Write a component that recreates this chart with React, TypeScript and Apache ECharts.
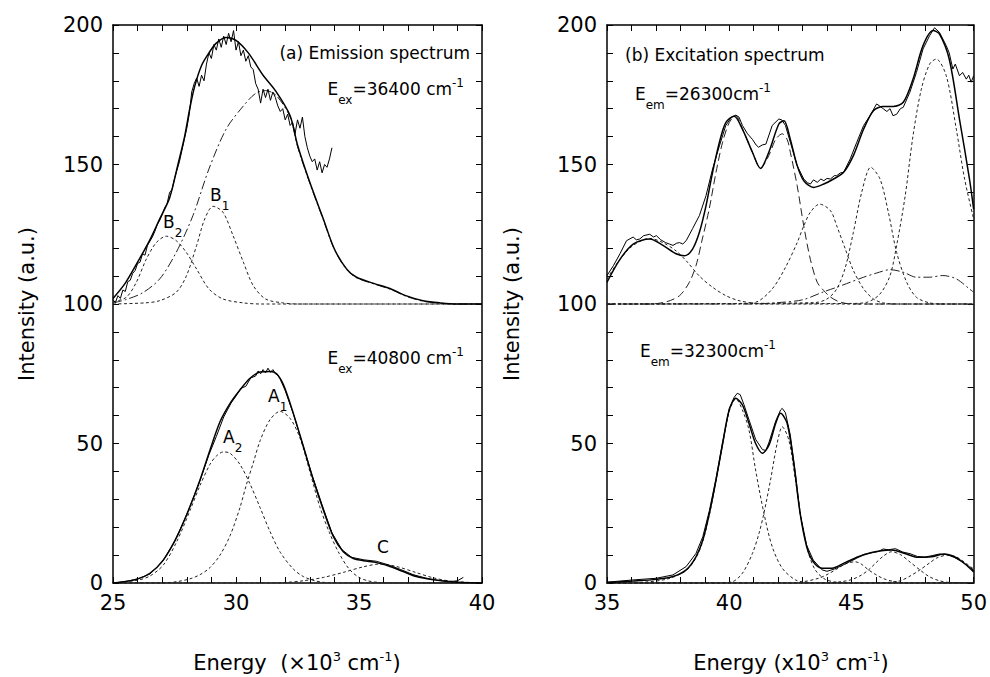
import React, { useEffect, useRef } from "react";
import * as echarts from "echarts";

// ---------- (a) Emission spectrum, upper trace (offset +100) ----------
const aTopExp: number[][] = [
  [25.0, 101.5], [25.1, 100.5], [25.2, 103], [25.3, 102], [25.4, 105], [25.5, 104.5], [25.6, 108], [25.7, 108.5],
  [25.8, 111], [25.9, 112], [26.0, 114.5], [26.1, 115], [26.2, 118], [26.3, 117.5], [26.4, 121], [26.5, 122.5],
  [26.6, 124], [26.7, 126], [26.8, 128.5], [26.9, 130], [27.0, 132], [27.1, 134.5], [27.2, 136], [27.3, 140],
  [27.4, 141], [27.5, 145], [27.6, 148], [27.7, 151], [27.8, 155], [27.9, 159], [28.0, 163], [28.1, 168],
  [28.2, 176], [28.3, 179], [28.4, 181], [28.5, 178], [28.6, 182], [28.7, 180], [28.8, 186], [28.9, 190],
  [29.0, 188], [29.1, 193], [29.2, 191], [29.3, 195], [29.4, 192], [29.5, 196], [29.6, 193], [29.7, 197],
  [29.8, 194], [29.9, 198], [30.0, 191], [30.1, 194], [30.2, 189], [30.3, 191], [30.4, 187], [30.5, 189],
  [30.6, 185], [30.7, 184], [30.8, 179], [30.9, 177], [31.0, 172], [31.1, 177], [31.2, 174], [31.3, 177],
  [31.4, 173], [31.5, 176], [31.6, 174], [31.7, 171], [31.8, 169], [31.9, 170], [32.0, 166], [32.1, 168],
  [32.2, 164], [32.3, 165], [32.4, 161], [32.5, 166], [32.6, 163], [32.7, 167], [32.8, 160], [32.9, 156],
  [33.0, 153], [33.1, 151], [33.2, 152], [33.3, 148], [33.4, 151], [33.5, 147], [33.6, 150], [33.7, 149],
  [33.8, 152], [33.9, 156],
];
const aTopFit: number[][] = [
  [25, 102], [25.5, 107.5], [26, 115], [26.5, 123], [26.9, 130.5], [27.3, 138], [27.64, 150], [27.91, 160],
  [28.12, 170], [28.32, 178], [28.6, 185.5], [28.9, 190], [29.2, 193.5], [29.6, 195.5], [30, 194.5], [30.5, 190],
  [31.1, 182], [31.6, 176.5], [32.2, 167.5], [32.5, 157], [33, 143.6], [33.55, 130.5], [34, 119.7], [34.5, 112.5],
  [34.9, 109.6], [35.6, 107.4], [36.3, 105.4], [36.9, 103], [37.6, 101.2], [38.3, 100.4], [39, 100], [40, 100],
];
const aTopBroad: number[][] = [
  [25, 100.4], [25.5, 101.5], [26.2, 104], [26.9, 109], [27.57, 118.5], [28.25, 131.7], [28.9, 148.4], [29.6, 162.7],
  [30.3, 171], [30.8, 175.5], [31.2, 176.5], [31.64, 174.7], [32.2, 167], [32.5, 156.5], [33, 143.3], [33.55, 130.2],
  [34, 119.5], [34.5, 112.3], [34.9, 109.4], [35.6, 107.2], [36.3, 105.2], [36.9, 102.8], [37.6, 101], [38.3, 100.3],
  [39, 100], [40, 100],
];
const aTopB2: number[][] = [
  [25, 100.8], [25.54, 102.4], [25.95, 107.8], [26.35, 116], [26.76, 122], [27.17, 124.3], [27.57, 122.7],
  [27.98, 118.5], [28.4, 112.5], [28.9, 105.4], [29.47, 101.8], [30.3, 100.4], [31, 100], [40, 100],
];
const aTopB1: number[][] = [
  [25, 100], [26.3, 100.4], [26.9, 101.2], [27.57, 104.2], [27.98, 110], [28.4, 121], [28.73, 130.5], [29.07, 135],
  [29.47, 132.9], [29.88, 124.5], [30.3, 115], [30.7, 106.6], [31.2, 101.8], [31.9, 100.4], [32.5, 100], [40, 100],
];

// ---------- (a) Emission spectrum, lower trace ----------
const aBotExp: number[][] = [
  [25, 0], [25.5, 0.5], [26, 1.5], [26.5, 3.2], [27, 7.5], [27.5, 14.8], [28, 24.5], [28.5, 35.8], [28.9, 46],
  [29.2, 52.5], [29.5, 59.5], [29.8, 64.5], [30.0, 67], [30.2, 69.8], [30.4, 70.5], [30.6, 73.5], [30.8, 74.2],
  [30.9, 76], [31.0, 75], [31.1, 76.5], [31.2, 75.3], [31.3, 77], [31.4, 75.5], [31.5, 76.5], [31.6, 75],
  [31.7, 74.5], [31.8, 73], [32.0, 69], [32.3, 61.5], [32.7, 50], [33.1, 38.5], [33.5, 28], [33.9, 18],
  [34.3, 12], [34.7, 9.2], [35.2, 8.3], [35.7, 7.8], [36.2, 6.5], [36.7, 4.8], [37.2, 3], [37.7, 1.8],
  [38.2, 1], [38.7, 0.5], [39.0, 0.8], [39.24, 2],
];
const aBotFit: number[][] = [
  [25, 0], [25.96, 1.3], [26.5, 3.5], [27.05, 8.3], [27.6, 16.6], [28.13, 27.4], [28.54, 37], [28.94, 47.6],
  [29.35, 57.8], [29.76, 64.4], [30.16, 69.2], [30.57, 73.4], [30.98, 75.6], [31.38, 75.8], [31.65, 75],
  [31.93, 71], [32.33, 60.8], [32.74, 48.9], [33.14, 37], [33.55, 26.2], [33.96, 16.6], [34.36, 11.2],
  [34.77, 8.8], [35.18, 8], [35.72, 7.3], [36.26, 5.9], [36.8, 4.1], [37.34, 2.3], [37.89, 1.3], [38.43, 0.7],
  [39, 0.3], [40, 0],
];
const aBotA2: number[][] = [
  [25, 0], [26, 1], [26.5, 2.5], [27.05, 6.5], [27.6, 15], [28.13, 26], [28.54, 35], [28.94, 42.5], [29.2, 45.5],
  [29.49, 47], [29.76, 46.5], [30.16, 42.5], [30.57, 35.5], [30.98, 27], [31.38, 18.5], [31.8, 11], [32.33, 5],
  [32.74, 2.3], [33.2, 0.8], [33.6, 0.2], [34.2, 0], [40, 0],
];
const aBotA1: number[][] = [
  [25, 0], [27, 0], [27.6, 0.5], [28.13, 1.5], [28.54, 3], [28.94, 5.5], [29.35, 10], [29.76, 17], [30.16, 27],
  [30.43, 35.5], [30.7, 43], [30.98, 51], [31.38, 58.5], [31.79, 61.5], [32.2, 59], [32.6, 52], [33.0, 40],
  [33.4, 27.5], [33.8, 18], [34.2, 10.5], [34.6, 5], [35.0, 2], [35.4, 0.7], [35.8, 0.2], [36.3, 0], [40, 0],
];
const aBotC: number[][] = [
  [25, 0], [31.2, 0], [32.0, 0.2], [32.74, 0.8], [33.55, 2], [34.36, 3.8], [35.18, 5.8], [35.85, 6.8],
  [36.53, 5.9], [37.3, 3.8], [38.0, 1.9], [38.7, 0.7], [39.5, 0.2], [40, 0],
];

// ---------- (b) Excitation spectrum, upper trace (offset +100) ----------
const bTopExp: number[][] = [
  [35, 110.2], [35.26, 113.7], [35.53, 118], [35.8, 122.7], [36.07, 124], [36.2, 123], [36.34, 123.3], [36.5, 124.5],
  [36.75, 125], [36.9, 124], [37.02, 124.5], [37.2, 123], [37.4, 122], [37.55, 121.5], [37.7, 121], [37.85, 121.8],
  [37.97, 122], [38.1, 121.5], [38.24, 122.7], [38.5, 127], [38.78, 131.7], [39.05, 138.8], [39.32, 148.4],
  [39.6, 156.7], [39.86, 164], [40.1, 167], [40.27, 167.7], [40.4, 167], [40.54, 164], [40.75, 161], [40.95, 159],
  [41.1, 157], [41.2, 156.2], [41.35, 157], [41.5, 157.3], [41.76, 164], [42.03, 166.3], [42.15, 166], [42.3, 164],
  [42.5, 158], [42.78, 149.6], [43.05, 144.8], [43.2, 143.5], [43.32, 143], [43.45, 144.5], [43.6, 143.6],
  [43.75, 144.8], [43.87, 144.2], [44.0, 145], [44.14, 144.8], [44.3, 146], [44.4, 146], [44.55, 147],
  [44.68, 147.2], [44.95, 152], [45.22, 158], [45.5, 164], [45.76, 167.5], [46.03, 171.7], [46.15, 171],
  [46.3, 170], [46.45, 169], [46.58, 170], [46.7, 167.5], [46.85, 168], [47.0, 170], [47.12, 170.5],
  [47.39, 175.9], [47.66, 183], [47.93, 191.4], [48.2, 196.2], [48.4, 199], [48.6, 197.4], [48.88, 192.6],
  [49.0, 190], [49.15, 184.2], [49.25, 186], [49.42, 181.8], [49.55, 183], [49.7, 180.6], [49.8, 182],
  [49.9, 179.5], [50, 181.8],
];
const bTopFit: number[][] = [
  [35, 107.8], [35.53, 116], [36.07, 121.5], [36.75, 123.3], [37.29, 121], [37.83, 118], [38.17, 117.3],
  [38.5, 119.7], [38.78, 125.7], [39.05, 135.2], [39.32, 147.2], [39.6, 158], [39.86, 165], [40.2, 167.3],
  [40.54, 162.7], [40.95, 154.4], [41.28, 148.6], [41.62, 154.4], [42.03, 164.5], [42.24, 165.7], [42.5, 159],
  [42.78, 149.6], [43.05, 144.2], [43.46, 141.8], [43.87, 143], [44.27, 144.8], [44.68, 147.2], [45.08, 153.2],
  [45.5, 162.7], [45.9, 169.3], [46.3, 170.8], [46.71, 170.8], [47.12, 172.3], [47.52, 180.6], [47.93, 192.6],
  [48.34, 198], [48.6, 196.8], [49, 187.8], [49.42, 166.3], [49.83, 144.8], [50, 134],
];
const bTopG1: number[][] = [
  [35, 109], [35.53, 116], [36.07, 121], [36.75, 123.5], [37.29, 122], [37.83, 119], [38.24, 115.5],
  [38.78, 110], [39.32, 106], [39.86, 103], [40.4, 101.2], [41.08, 100.2], [41.5, 100], [50, 100],
];
const bTopDouble: number[][] = [
  [35, 100], [36.75, 100], [37.43, 100.8], [37.97, 103], [38.37, 107.8], [38.64, 113.7], [38.9, 123.3],
  [39.18, 134], [39.46, 147.2], [39.73, 158], [40, 165], [40.27, 167.5], [40.54, 162.7], [40.95, 154.4],
  [41.28, 148.6], [41.62, 153.2], [41.9, 159], [42.17, 161], [42.37, 159], [42.5, 154.4], [42.78, 142.4],
  [43.05, 128], [43.32, 116], [43.6, 107.8], [43.87, 104.8], [44.14, 102.5], [44.5, 100.8], [45, 100], [50, 100],
];
const bTopG2: number[][] = [
  [35, 100], [40.5, 100.2], [41.08, 100.6], [41.76, 105.4], [42.3, 113.1], [42.78, 122], [43.05, 128],
  [43.32, 132.9], [43.7, 135.8], [44.14, 133.5], [44.4, 128], [44.75, 119.7], [45.08, 112], [45.5, 105.4],
  [45.9, 101.8], [46.3, 100.4], [47, 100], [50, 100],
];
const bTopG3: number[][] = [
  [35, 100], [43.5, 100.5], [44.0, 101.8], [44.4, 105.4], [44.75, 113.1], [45.08, 125.7], [45.42, 140],
  [45.79, 149], [46.17, 144.8], [46.51, 132.9], [46.85, 118.5], [47.26, 107.8], [47.66, 102.4], [48.2, 100.4],
  [48.8, 100], [50, 100],
];
const bTopG4: number[][] = [
  [35, 100], [45.0, 100.2], [45.63, 100.6], [46.17, 103.6], [46.58, 110.2], [46.85, 121], [47.2, 138.8],
  [47.52, 160.3], [47.86, 177], [48.2, 186], [48.47, 187.8], [48.88, 181.8], [49.29, 162.7], [49.63, 144.8],
  [50, 130.5],
];
const bTopBroad: number[][] = [
  [35, 100], [41, 100], [42, 100.5], [43, 101.5], [43.87, 104.4], [44.4, 106], [44.95, 107.8], [45.5, 109.6],
  [46.03, 111.1], [46.58, 112.3], [47.12, 111.4], [47.66, 109.6], [48.2, 109.6], [48.74, 110.2], [49.29, 109],
  [49.83, 105.4], [50, 104.2],
];

// ---------- (b) Excitation spectrum, lower trace ----------
const bBotExp: number[][] = [
  [35, 0.3], [36.07, 1.1], [37.02, 1.7], [37.7, 2.9], [38.24, 5.9], [38.64, 10.6], [38.92, 16.6], [39.19, 26],
  [39.46, 37.5], [39.73, 50.5], [40, 62.5], [40.2, 66.5], [40.33, 68], [40.45, 67.5], [40.6, 64], [40.81, 58.5],
  [41.08, 51.5], [41.36, 47.8], [41.5, 47.5], [41.63, 50.5], [41.9, 58], [42.1, 62], [42.17, 62.6], [42.3, 61],
  [42.5, 53], [42.7, 40], [42.9, 25], [43.17, 13.5], [43.44, 8.2], [43.8, 4.7], [44.0, 4.2], [44.3, 5],
  [44.6, 6.2], [44.9, 7.5], [45.2, 8.8], [45.5, 10.2], [45.8, 10.8], [46.1, 11.3], [46.3, 12.2], [46.5, 11.9],
  [46.8, 12.3], [47.1, 11.1], [47.4, 10.5], [47.7, 9.5], [48.0, 9.3], [48.3, 9.8], [48.6, 10.4], [48.9, 10.2],
  [49.2, 9.2], [49.5, 7.8], [49.8, 6], [50, 4.5],
];
const bBotFit: number[][] = [
  [35, 0.2], [36.07, 0.7], [37.02, 1.3], [37.7, 2.3], [38.24, 4.7], [38.64, 9.4], [38.92, 15.4], [39.19, 25],
  [39.46, 36.9], [39.73, 50], [40, 62], [40.27, 66.2], [40.54, 63.8], [40.81, 57.2], [41.08, 50], [41.36, 46.5],
  [41.63, 49.5], [41.9, 57.2], [42.1, 60.8], [42.37, 57.2], [42.64, 42.9], [42.9, 25], [43.17, 13], [43.44, 7.6],
  [43.8, 5.3], [44.2, 5.3], [44.74, 7.3], [45.28, 9.4], [45.83, 10.9], [46.23, 11.6], [46.64, 11.8],
  [47.18, 10.6], [47.72, 9.2], [48.27, 9.4], [48.8, 10.4], [49.21, 9.4], [49.62, 7], [50, 4],
];
const bBotG1: number[][] = [
  [35, 0], [36.5, 0.3], [37.5, 1.5], [38.24, 4.5], [38.64, 9], [38.92, 15], [39.19, 24.5], [39.46, 36.5],
  [39.73, 49.5], [40, 61.5], [40.27, 66], [40.54, 62], [40.81, 54.8], [41.08, 40.5], [41.42, 25], [41.76, 13],
  [42.17, 5.3], [42.71, 1.1], [43.2, 0.2], [44, 0], [50, 0],
];
const bBotG2: number[][] = [
  [35, 0], [39.5, 0], [40.14, 0.5], [40.54, 3.5], [40.95, 10.6], [41.22, 17.8], [41.42, 25], [41.69, 36.9],
  [41.96, 50], [42.17, 56], [42.44, 51.2], [42.71, 36.9], [42.98, 21.4], [43.25, 10.6], [43.52, 4.7],
  [43.93, 1.3], [44.47, 0.2], [45, 0], [50, 0],
];
const bBotG3: number[][] = [
  [35, 0], [42.5, 0], [43.0, 0.4], [43.66, 1.7], [44.0, 3], [44.4, 5], [44.74, 6.8], [45.15, 7.6], [45.4, 6.8],
  [45.7, 4.7], [46.0, 3], [46.3, 1.6], [46.7, 0.6], [47.2, 0.1], [48, 0], [50, 0],
];
const bBotG4: number[][] = [
  [35, 0], [44, 0], [44.6, 0.5], [45.0, 1.2], [45.4, 2.8], [45.7, 4.7], [46.0, 7.2], [46.3, 9.6], [46.64, 11.2],
  [47.0, 10.2], [47.4, 7.5], [47.8, 4.7], [48.2, 2.2], [48.6, 0.8], [49.0, 0.2], [50, 0],
];
const bBotG5: number[][] = [
  [35, 0], [46, 0], [46.6, 0.3], [47.0, 0.8], [47.4, 2.5], [47.8, 4.7], [48.2, 7.2], [48.5, 9], [48.94, 10],
  [49.3, 9.3], [49.7, 7], [50, 5],
];

// ---------- axes ----------
const aXRange = [25, 40];
const bXRange = [35, 50];
const yRange = [0, 200];
const xInterval = 5;
const yInterval = 50;

const FONT = "'DejaVu Sans', 'Liberation Sans', Arial, sans-serif";

export default function App() {
  const ref = useRef<HTMLDivElement>(null);

  useEffect(() => {
    if (!ref.current) return;
    const chart = echarts.init(ref.current, undefined, { renderer: "svg" });

    const axisLine = { show: true, onZero: false, lineStyle: { color: "#000", width: 1.5 } };
    const tick = { show: true, inside: true, length: 6, lineStyle: { color: "#000", width: 1 } };
    const minorTick = { show: true, splitNumber: 5, length: 6, lineStyle: { color: "#000", width: 1 } };
    const label = { show: true, color: "#000", fontSize: 21, fontFamily: FONT, showMinLabel: true, showMaxLabel: true };

    const xAx = (grid: number, range: number[], pos: "top" | "bottom") => ({
      type: "value",
      gridIndex: grid,
      position: pos,
      min: range[0],
      max: range[1],
      interval: xInterval,
      axisLine,
      axisTick: tick,
      minorTick,
      splitLine: { show: false },
      minorSplitLine: { show: false },
      axisLabel: pos === "bottom" ? { ...label, margin: 9 } : { show: false },
    });
    const yAx = (grid: number, pos: "left" | "right") => ({
      type: "value",
      gridIndex: grid,
      position: pos,
      min: yRange[0],
      max: yRange[1],
      interval: yInterval,
      axisLine,
      axisTick: tick,
      minorTick,
      splitLine: { show: false },
      minorSplitLine: { show: false },
      axisLabel: pos === "left" ? { ...label, margin: 10 } : { show: false },
    });

    const solid = (data: number[][], idx: number, width: number, smooth: number | boolean = false) => ({
      type: "line",
      data,
      xAxisIndex: idx,
      yAxisIndex: idx,
      symbol: "none",
      showSymbol: false,
      smooth,
      silent: true,
      z: 5,
      lineStyle: { color: "#000", width },
    });
    const dashed = (data: number[][], idx: number, dash: number[]) => ({
      type: "line",
      data,
      xAxisIndex: idx,
      yAxisIndex: idx,
      symbol: "none",
      showSymbol: false,
      smooth: 0.3,
      silent: true,
      z: 3,
      lineStyle: { color: "#222", width: 1, type: dash },
    });
    const SD = [3, 2.5];
    const DASHDOT = [9, 3, 2, 3];
    const LONG = [8, 4];

    const richBase = {
      sub: { fontSize: 12, fontFamily: FONT, fill: "#000", padding: [22, 0, 0, 0] },
      sup: { fontSize: 12, fontFamily: FONT, fill: "#000", padding: [0, 0, 12, 0] },
    };
    const annot = (text: string, x: number, y: number, align: "left" | "right" | "center", size = 17) => ({
      type: "text",
      x,
      y,
      silent: true,
      style: {
        text,
        fill: "#000",
        fontSize: size,
        fontFamily: FONT,
        align,
        verticalAlign: "middle",
        rich: richBase,
      },
    });
    const titleRich = {
      sup: { fontSize: 13, fontFamily: FONT, fill: "#000", padding: [0, 0, 14, 0] },
    };

    chart.setOption({
      animation: false,
      backgroundColor: "#fff",
      grid: [
        { left: 113, top: 25, width: 369, height: 558, containLabel: false },
        { left: 607, top: 25, width: 369, height: 558, containLabel: false },
      ],
      xAxis: [xAx(0, aXRange, "bottom"), xAx(0, aXRange, "top"), xAx(1, bXRange, "bottom"), xAx(1, bXRange, "top")],
      yAxis: [yAx(0, "left"), yAx(0, "right"), yAx(1, "left"), yAx(1, "right")],
      series: [
        // (a) upper
        dashed(aTopB2, 0, SD),
        dashed(aTopB1, 0, SD),
        dashed(aTopBroad, 0, DASHDOT),
        solid(aTopExp, 0, 1),
        solid(aTopFit, 0, 1.5, 0.3),
        // (a) lower
        dashed(aBotA2, 0, SD),
        dashed(aBotA1, 0, SD),
        dashed(aBotC, 0, SD),
        solid(aBotExp, 0, 1),
        solid(aBotFit, 0, 1.5, 0.3),
        // (b) upper
        dashed(bTopG1, 2, SD),
        dashed(bTopDouble, 2, LONG),
        dashed(bTopG2, 2, SD),
        dashed(bTopG3, 2, SD),
        dashed(bTopG4, 2, SD),
        dashed(bTopBroad, 2, DASHDOT),
        solid(bTopExp, 2, 1),
        solid(bTopFit, 2, 1.5, 0.3),
        // (b) lower
        dashed(bBotG1, 2, SD),
        dashed(bBotG2, 2, SD),
        dashed(bBotG3, 2, SD),
        dashed(bBotG4, 2, SD),
        dashed(bBotG5, 2, SD),
        solid(bBotExp, 2, 1),
        solid(bBotFit, 2, 1.5, 0.3),
      ],
      graphic: [
        annot("(a) Emission spectrum", 470, 53, "right"),
        annot("E{sub|ex}=36400 cm{sup|-1}", 464, 89, "right"),
        annot("E{sub|ex}=40800 cm{sup|-1}", 464, 358, "right"),
        annot("B{sub|2}", 163, 222, "left"),
        annot("B{sub|1}", 210, 195, "left"),
        annot("A{sub|2}", 223, 437, "left"),
        annot("A{sub|1}", 268, 396, "left"),
        annot("C", 377, 547, "left"),
        annot("(b) Excitation spectrum", 625, 55, "left"),
        annot("E{sub|em}=26300cm{sup|-1}", 635, 94, "left"),
        annot("E{sub|em}=32300cm{sup|-1}", 640, 351, "left"),
        {
          type: "text",
          x: 27,
          y: 304,
          rotation: Math.PI / 2,
          silent: true,
          style: { text: "Intensity (a.u.)", fill: "#000", fontSize: 21, fontFamily: FONT, align: "center", verticalAlign: "middle" },
        },
        {
          type: "text",
          x: 512,
          y: 304,
          rotation: Math.PI / 2,
          silent: true,
          style: { text: "Intensity (a.u.)", fill: "#000", fontSize: 21, fontFamily: FONT, align: "center", verticalAlign: "middle" },
        },
        {
          type: "text",
          x: 297,
          y: 663,
          silent: true,
          style: {
            text: "Energy  (\u00d710{sup|3} cm{sup|-1})",
            fill: "#000",
            fontSize: 21,
            fontFamily: FONT,
            align: "center",
            verticalAlign: "middle",
            rich: titleRich,
          },
        },
        {
          type: "text",
          x: 791,
          y: 663,
          silent: true,
          style: {
            text: "Energy (x10{sup|3} cm{sup|-1})",
            fill: "#000",
            fontSize: 21,
            fontFamily: FONT,
            align: "center",
            verticalAlign: "middle",
            rich: titleRich,
          },
        },
      ],
    });

    return () => chart.dispose();
  }, []);

  return <div ref={ref} style={{ position: "absolute", left: 0, top: 0, width: 990, height: 677 }} />;
}
